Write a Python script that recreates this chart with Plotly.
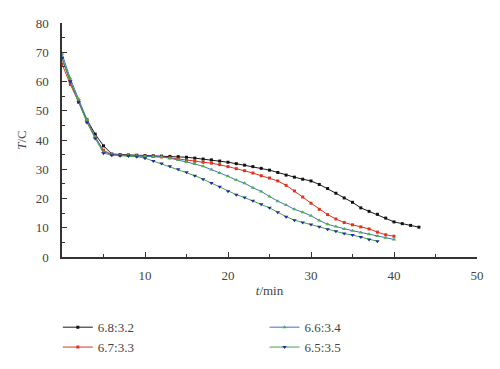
import plotly.graph_objects as go

# ---- data ----
t_black = list(range(0, 44))
T_black = [68, 60, 53, 47, 42, 38, 35.2, 35, 34.9, 34.8, 34.7, 34.6, 34.5, 34.4, 34.3,
           34.1, 33.8, 33.5, 33.2, 32.8, 32.4, 31.9, 31.4, 30.9, 30.3, 29.7, 28.9, 28.0,
           27.3, 26.6, 26.0, 24.8, 23.4, 21.8, 20.2, 18.7, 16.8, 15.6, 14.6, 13.3, 12.0,
           11.4, 10.8, 10.2]

t_red = list(range(0, 41))
T_red = [66, 59, 53, 46.5, 41, 36.5, 35, 34.8, 34.7, 34.6, 34.5, 34.4, 34.2, 33.9, 33.5,
         33.0, 32.7, 32.4, 32.1, 31.6, 30.9, 30.2, 29.5, 28.7, 27.8, 27.0, 26.0, 24.5,
         22.6, 20.5, 18.4, 16.3, 14.5, 13.0, 11.8, 11.0, 10.3, 9.6, 8.5, 7.6, 7.1]

t_blue = list(range(0, 41))
T_blue = [69.5, 61, 54, 47, 41, 36, 35, 34.8, 34.7, 34.5, 34.4, 34.3, 34.2, 33.8, 33.2,
          32.5, 31.8, 31.0, 29.9, 28.7, 27.6, 26.3, 25.2, 23.7, 22.4, 20.7, 19.1, 17.8,
          16.3, 15.3, 14.1, 12.5, 11.2, 10.4, 9.6, 9.0, 8.4, 7.8, 7.2, 6.6, 6.0]

t_green = list(range(0, 39))
T_green = [68, 60, 53, 46, 40.5, 35.5, 34.8, 34.6, 34.5, 34.3, 33.8, 32.8, 32.0, 31.0,
           30.0, 29.0, 27.8, 26.6, 25.3, 24.0, 22.5, 21.3, 20.3, 19.2, 18.0, 16.8, 15.3,
           13.8, 12.6, 11.8, 11.1, 10.3, 9.5, 8.8, 8.0, 7.5, 6.8, 6.0, 5.4]

names = ["6.8:3.2", "6.7:3.3", "6.6:3.4", "6.5:3.5"]

x_ticks = [10, 20, 30, 40, 50]
y_ticks = [0, 10, 20, 30, 40, 50, 60, 70, 80]

FONT = "Times New Roman, Liberation Serif, serif"
TXT = "#444444"
FS = 13

fig = go.Figure()

fig.add_trace(go.Scatter(x=t_black, y=T_black, name=names[0], mode="lines+markers",
                         line=dict(color="#1a1a1a", width=1), legend="legend",
                         marker=dict(symbol="square", size=3, color="#111111")))
fig.add_trace(go.Scatter(x=t_red, y=T_red, name=names[1], mode="lines+markers",
                         line=dict(color="#e0321e", width=1), legend="legend",
                         marker=dict(symbol="square", size=3, color="#e0321e")))
fig.add_trace(go.Scatter(x=t_blue, y=T_blue, name=names[2], mode="lines+markers",
                         line=dict(color="#3f6fd6", width=1), legend="legend2",
                         marker=dict(symbol="triangle-up", size=4, color="#4cb04c")))
fig.add_trace(go.Scatter(x=t_green, y=T_green, name=names[3], mode="lines+markers",
                         line=dict(color="#3aaa4a", width=1), legend="legend2",
                         marker=dict(symbol="triangle-down", size=4, color="#2a2a9a")))

axis_common = dict(
    showline=True, linecolor="#333333", linewidth=1.5,
    ticks="inside", ticklen=5, tickwidth=1.2, tickcolor="#333333",
    showgrid=False, zeroline=False, mirror=False, automargin=False,
    tickfont=dict(family=FONT, size=FS, color=TXT),
    minor=dict(ticks="inside", ticklen=3, tickwidth=1, tickcolor="#333333", dtick=5, showgrid=False),
)

fig.update_xaxes(range=[0, 50], tickvals=x_ticks, ticktext=[str(v) for v in x_ticks],
                 ticklabelstandoff=6,
                 title=dict(text="<i>t</i>/min", font=dict(family=FONT, size=FS, color=TXT), standoff=4),
                 **axis_common)
fig.update_yaxes(range=[0, 80], tickvals=y_ticks, ticktext=[str(v) for v in y_ticks],
                 ticklabelstandoff=9,
                 title=dict(text="<i>T</i>/C", font=dict(family=FONT, size=FS, color=TXT), standoff=6),
                 **axis_common)

leg_common = dict(orientation="v", yanchor="top", y=-0.236, xanchor="left",
                  font=dict(family=FONT, size=FS, color=TXT),
                  bgcolor="rgba(0,0,0,0)", tracegroupgap=0)

fig.update_layout(
    width=500, height=369,
    margin=dict(l=54, r=31, t=15, b=120),
    paper_bgcolor="white", plot_bgcolor="white",
    showlegend=True,
    legend=dict(x=-0.01, **leg_common),
    legend2=dict(x=0.488, **leg_common),
)

fig.write_html("out.html")
